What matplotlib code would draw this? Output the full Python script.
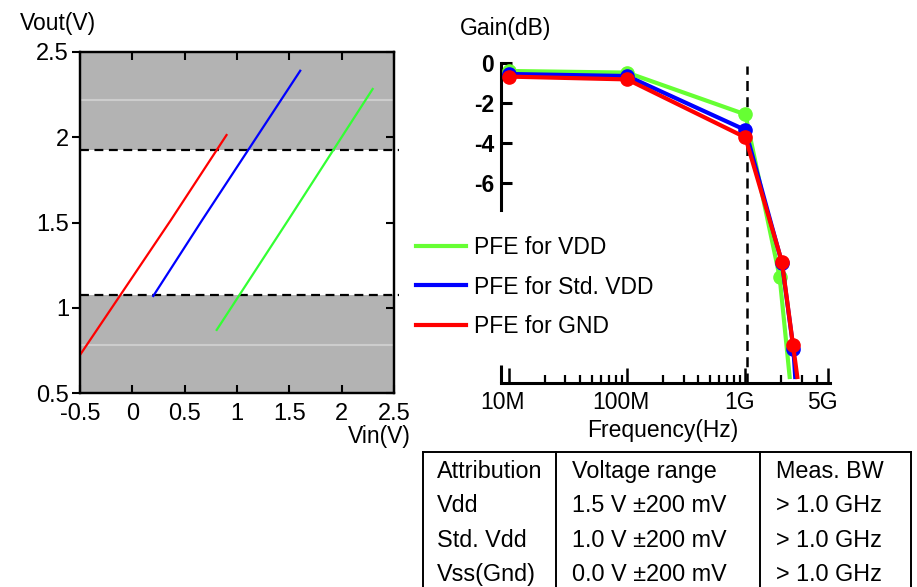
import matplotlib
matplotlib.use("Agg")
import matplotlib.pyplot as plt
import matplotlib.transforms as mtransforms
from matplotlib.lines import Line2D
from matplotlib.ticker import FixedLocator, NullFormatter

plt.rcParams['font.family'] = ['Liberation Sans', 'DejaVu Sans']

W, H = 917, 587

# ---- left panel: transfer curves ----
vin_vdd = [0.806, 1.49, 2.296]
vout_vdd = [0.87, 1.515, 2.283]
vin_std = [0.2, 0.668, 1.604]
vout_std = [1.069, 1.515, 2.39]
vin_gnd = [-0.5, 0.369, 0.9]
vout_gnd = [0.723, 1.515, 2.013]
vout_hi = 1.925      # upper dashed limit
vout_lo = 1.077      # lower dashed limit
vout_hi_ref = 2.218  # light line in upper band
vout_lo_ref = 0.78   # light line in lower band

# ---- right panel: frequency response ----
freq_vdd = [1e7, 1e8, 1e9, 1.95e9, 2.37e9]
gain_vdd = [-0.40, -0.48, -2.57, -10.7, -15.7]
freq_std = [1e7, 1e8, 1e9, 2.04e9, 2.55e9, 2.64e9]
gain_std = [-0.55, -0.65, -3.35, -10.0, -14.3, -15.7]
freq_gnd = [1e7, 1e8, 1e9, 2.04e9, 2.53e9, 2.75e9]
gain_gnd = [-0.68, -0.82, -3.72, -9.95, -14.1, -15.7]
bw_line = 1.03e9
series_labels = ['PFE for VDD', 'PFE for Std. VDD', 'PFE for GND']

# ---- table ----
table_header = ['Attribution', 'Voltage range', 'Meas. BW']
table_rows = [
    ['Vdd', '1.5 V \u00b1200 mV', '> 1.0 GHz'],
    ['Std. Vdd', '1.0 V \u00b1200 mV', '> 1.0 GHz'],
    ['Vss(Gnd)', '0.0 V \u00b1200 mV', '> 1.0 GHz'],
]

GREEN = '#33ff33'
GREEN2 = '#66ff33'
BLUE = '#0000ff'
RED = '#ff0000'


def fx(x):
    return x / W


def fy(y):
    return 1 - y / H


fig = plt.figure(figsize=(W / 100, H / 100), dpi=100)

# left axes
ax1 = fig.add_axes([fx(80), fy(393), fx(394) - fx(80), fy(52) - fy(393)])
ax1.set_xlim(-0.5, 2.5)
ax1.set_ylim(0.5, 2.5)
ax1.axhspan(vout_hi, 2.5, color='#b3b3b3', lw=0, zorder=0)
ax1.axhspan(0.5, vout_lo, color='#b3b3b3', lw=0, zorder=0)
ax1.axhline(vout_hi_ref, color='#cdcdcd', lw=1.5, zorder=1)
ax1.axhline(vout_lo_ref, color='#cdcdcd', lw=1.5, zorder=1)
for yv in (vout_hi, vout_lo):
    ax1.plot([-0.5, 2.55], [yv, yv], color='black', lw=1.6, ls=(0, (4, 2.5)),
             clip_on=False, zorder=3)
ax1.plot(vin_gnd, vout_gnd, color=RED, lw=1.6, zorder=4)
ax1.plot(vin_std, vout_std, color=BLUE, lw=1.6, zorder=4)
ax1.plot(vin_vdd, vout_vdd, color=GREEN, lw=1.6, zorder=4)

ax1.set_xticks([-0.5, 0, 0.5, 1, 1.5, 2, 2.5])
ax1.set_xticklabels(['-0.5', '0', '0.5', '1', '1.5', '2', '2.5'])
ax1.set_yticks([0.5, 1, 1.5, 2, 2.5])
ax1.set_yticklabels(['0.5', '1', '1.5', '2', '2.5'])
ax1.tick_params(axis='x', direction='in', length=6, width=1.5, top=True,
                pad=7, labelsize=17)
ax1.tick_params(axis='y', direction='out', length=6, width=1.5, pad=2,
                labelsize=17)
ax1r = ax1.twinx()
ax1r.set_ylim(0.5, 2.5)
ax1r.set_yticks([0.5, 1, 1.5, 2, 2.5])
ax1r.tick_params(axis='y', direction='in', length=6, width=1.5, labelright=False)
for a in (ax1, ax1r):
    for s in a.spines.values():
        s.set_linewidth(1.6)

fig.text(fx(20), fy(30), 'Vout(V)', fontsize=16.5, ha='left', va='baseline')
fig.text(fx(348), fy(443), 'Vin(V)', fontsize=16.5, ha='left', va='baseline')

# right axes
ax2 = fig.add_axes([fx(501), fy(383), fx(830) - fx(501), fy(63) - fy(383)])
ax2.set_xscale('log')
ax2.set_xlim(8.56e6, 5.2e9)
ax2.set_ylim(-16, 0)
ax2.axvline(bw_line, ymax=0.99, color='black', lw=1.8, ls=(0, (4, 2.5)), zorder=1)
ax2.plot(freq_vdd, gain_vdd, color=GREEN2, lw=3, marker='o', ms=9.5,
         markevery=[0, 1, 2, 3], clip_on=False, zorder=3)
ax2.plot(freq_std, gain_std, color=BLUE, lw=3, marker='o', ms=9.5,
         markevery=[0, 1, 2, 3, 4], clip_on=False, zorder=4)
ax2.plot(freq_gnd, gain_gnd, color=RED, lw=3, marker='o', ms=9.5,
         markevery=[0, 1, 2, 3, 4], clip_on=False, zorder=5)

ax2.spines['top'].set_visible(False)
ax2.spines['right'].set_visible(False)
ax2.spines['left'].set_linewidth(2.2)
ax2.spines['bottom'].set_linewidth(2.2)
ax2.spines['left'].set_bounds(-7.35, 0)
lower = mtransforms.blended_transform_factory(ax2.transAxes, ax2.transData)
ax2.plot([0, 0], [-16, -15.1], transform=lower, color='black', lw=2.2,
         clip_on=False, solid_capstyle='butt')

ax2.set_yticks([0, -2, -4, -6])
ax2.set_yticklabels(['0', '-2', '-4', '-6'])
ax2.tick_params(axis='y', direction='in', length=8, width=2.2, pad=5,
                labelsize=16.5)
for lab in ax2.get_yticklabels():
    lab.set_fontweight('bold')
ax2.xaxis.set_major_locator(FixedLocator([1e7, 1e8, 1e9, 5e9]))
ax2.set_xticklabels(['10M', '100M', '1G', '5G'])
minors = [m * d for d in (1e7, 1e8, 1e9) for m in range(2, 10) if m * d < 5e9]
ax2.xaxis.set_minor_locator(FixedLocator(minors))
ax2.xaxis.set_minor_formatter(NullFormatter())
ax2.tick_params(axis='x', which='major', direction='in', length=11, width=1.8,
                pad=6, labelsize=16.5)
ax2.tick_params(axis='x', which='minor', direction='in', length=6, width=1.6)
shift = mtransforms.ScaledTranslation(-6 / 100, 0, fig.dpi_scale_trans)
for lab in ax2.get_xticklabels():
    lab.set_transform(lab.get_transform() + shift)

fig.text(fx(460), fy(35), 'Gain(dB)', fontsize=16.5, ha='left', va='baseline')
fig.text(fx(663), fy(437), 'Frequency(Hz)', fontsize=16.5, ha='center',
         va='baseline')

handles = [Line2D([], [], color=c, lw=3) for c in (GREEN2, BLUE, RED)]
fig.legend(handles, series_labels, loc='upper left',
           bbox_to_anchor=(fx(416), fy(236)), frameon=False, fontsize=16.5,
           handlelength=2.2, handletextpad=0.35, labelspacing=0.72,
           borderpad=0, borderaxespad=0)

# table drawn with figure lines and text
tl, tr, tt = 423, 911, 452
for x0, x1, y0, y1 in [(tl, tr, tt, tt), (tl, tl, tt, H), (tr, tr, tt, H),
                       (556, 556, tt, H), (760, 760, tt, H)]:
    fig.add_artist(Line2D([fx(x0), fx(x1)], [fy(y0), fy(y1)], color='black',
                          lw=1.4, transform=fig.transFigure))
col_x = [437, 572, 776]
row_base = [478, 512, 547, 581]
for row, yb in zip([table_header] + table_rows, row_base):
    for txt, xc in zip(row, col_x):
        fig.text(fx(xc), fy(yb), txt, fontsize=16.8, ha='left', va='baseline')

fig.savefig('out.png', dpi=100)
